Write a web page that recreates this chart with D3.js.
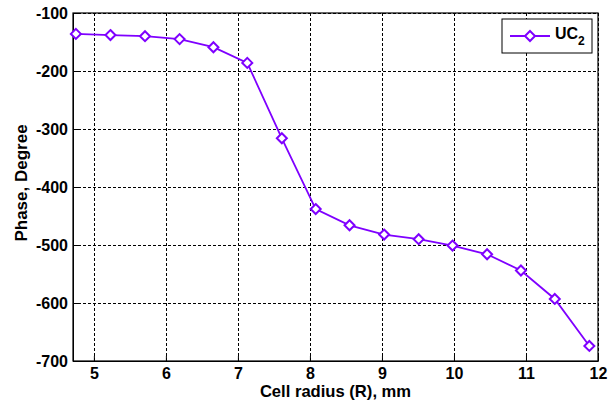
<!DOCTYPE html>
<html>
<head>
<meta charset="utf-8">
<script src="https://cdn.jsdelivr.net/npm/d3@7"></script>
<style>
    body { margin: 0; background: #fff; }
    text { font-family: "Liberation Sans", Arial, sans-serif; font-weight: bold; }
</style>
</head>
<body>
<div id="chart-area"></div>
<script>
// cell radius (mm) and phase (degree)
let radius = [4.75, 5.23, 5.71, 6.19, 6.66, 7.13, 7.61, 8.08, 8.55, 9.03, 9.51, 9.98, 10.46, 10.93, 11.40, 11.88];
let phase = [-136, -138, -140, -145, -159, -186, -316, -438, -466, -482, -490, -501, -516, -544, -593, -674];
let xTicks = [5, 6, 7, 8, 9, 10, 11, 12];
let yTicks = [-100, -200, -300, -400, -500, -600, -700];
let seriesName = "UC";
let seriesSub = "2";

let margin = { top: 13, right: 17, bottom: 44, left: 73 };
let width = 615 - margin.left - margin.right,
    height = 405 - margin.top - margin.bottom;
let color = "#7f00ff";

let svg = d3.select("#chart-area").append("svg")
    .attr("width", 615)
    .attr("height", 405)
    .append("g")
    .attr("transform", "translate(" + margin.left + "," + margin.top + ")");

let x = d3.scaleLinear().domain([4.71, 12]).range([0, width]);
let y = d3.scaleLinear().domain([-700, -100]).range([height, 0]);

// grid
svg.append("g").selectAll("line.vgrid")
    .data(xTicks)
    .enter().append("line")
    .attr("x1", d => Math.round(x(d)) + 0.5)
    .attr("x2", d => Math.round(x(d)) + 0.5)
    .attr("y1", 0)
    .attr("y2", height)
    .attr("stroke", "#000")
    .attr("stroke-dasharray", "3,2");

svg.append("g").selectAll("line.hgrid")
    .data(yTicks)
    .enter().append("line")
    .attr("x1", 0)
    .attr("x2", width)
    .attr("y1", d => Math.round(y(d)) + 0.5)
    .attr("y2", d => Math.round(y(d)) + 0.5)
    .attr("stroke", "#000")
    .attr("stroke-dasharray", "3,2");

// axes (plain hyphen for the minus sign, like the original)
let xAxis = d3.axisBottom(x).tickValues(xTicks).tickFormat(d => String(d))
    .tickSizeInner(-5).tickSizeOuter(0).tickPadding(7);
let yAxis = d3.axisLeft(y).tickValues(yTicks).tickFormat(d => String(d))
    .tickSizeInner(-5).tickSizeOuter(0).tickPadding(10);

let gx = svg.append("g")
    .attr("transform", "translate(0," + height + ")")
    .call(xAxis);
let gy = svg.append("g")
    .call(yAxis);

[gx, gy].forEach(g => {
    g.attr("font-size", 16).attr("font-family", null);
    g.selectAll("text").attr("fill", "#000");
    g.select(".domain").attr("stroke", "#000");
    g.selectAll(".tick line").attr("stroke", "#000");
});
gy.selectAll("text").attr("dx", 5);

// box
svg.append("rect")
    .attr("x", 0)
    .attr("y", 0)
    .attr("width", width)
    .attr("height", height)
    .attr("fill", "none")
    .attr("stroke", "#000")
    .attr("stroke-width", 1.2);

// series
let pts = radius.map((r, i) => ({ r: r, p: phase[i] }));

svg.append("path")
    .datum(pts)
    .attr("fill", "none")
    .attr("stroke", color)
    .attr("stroke-width", 1.8)
    .attr("d", d3.line().x(d => x(d.r)).y(d => y(d.p)));

let diamond = "M0,-5L5,0L0,5L-5,0Z";

svg.selectAll(".marker")
    .data(pts)
    .enter().append("path")
    .attr("class", "marker")
    .attr("transform", d => "translate(" + x(d.r) + "," + y(d.p) + ")")
    .attr("d", diamond)
    .attr("fill", "#fff")
    .attr("stroke", color)
    .attr("stroke-width", 2);

// axis labels
svg.append("text")
    .attr("x", width / 2)
    .attr("y", height + 36)
    .attr("text-anchor", "middle")
    .attr("font-size", 16.6)
    .text("Cell radius (R), mm");

svg.append("text")
    .attr("transform", "translate(" + (-46) + "," + (height / 2 - 4) + ") rotate(-90)")
    .attr("text-anchor", "middle")
    .attr("font-size", 17)
    .text("Phase, Degree");

// legend
let legend = svg.append("g")
    .attr("transform", "translate(" + (502 - margin.left) + "," + (19 - margin.top) + ")");

legend.append("rect")
    .attr("width", 90)
    .attr("height", 34)
    .attr("fill", "#fff")
    .attr("stroke", "#000");

legend.append("line")
    .attr("x1", 8)
    .attr("x2", 48)
    .attr("y1", 17)
    .attr("y2", 17)
    .attr("stroke", color)
    .attr("stroke-width", 1.8);

legend.append("path")
    .attr("transform", "translate(28,17)")
    .attr("d", diamond)
    .attr("fill", "#fff")
    .attr("stroke", color)
    .attr("stroke-width", 2);

let lt = legend.append("text")
    .attr("x", 53)
    .attr("y", 20)
    .attr("font-size", 16)
    .text(seriesName);
lt.append("tspan")
    .attr("dy", 6)
    .attr("font-size", 12)
    .text(seriesSub);
</script>
</body>
</html>
